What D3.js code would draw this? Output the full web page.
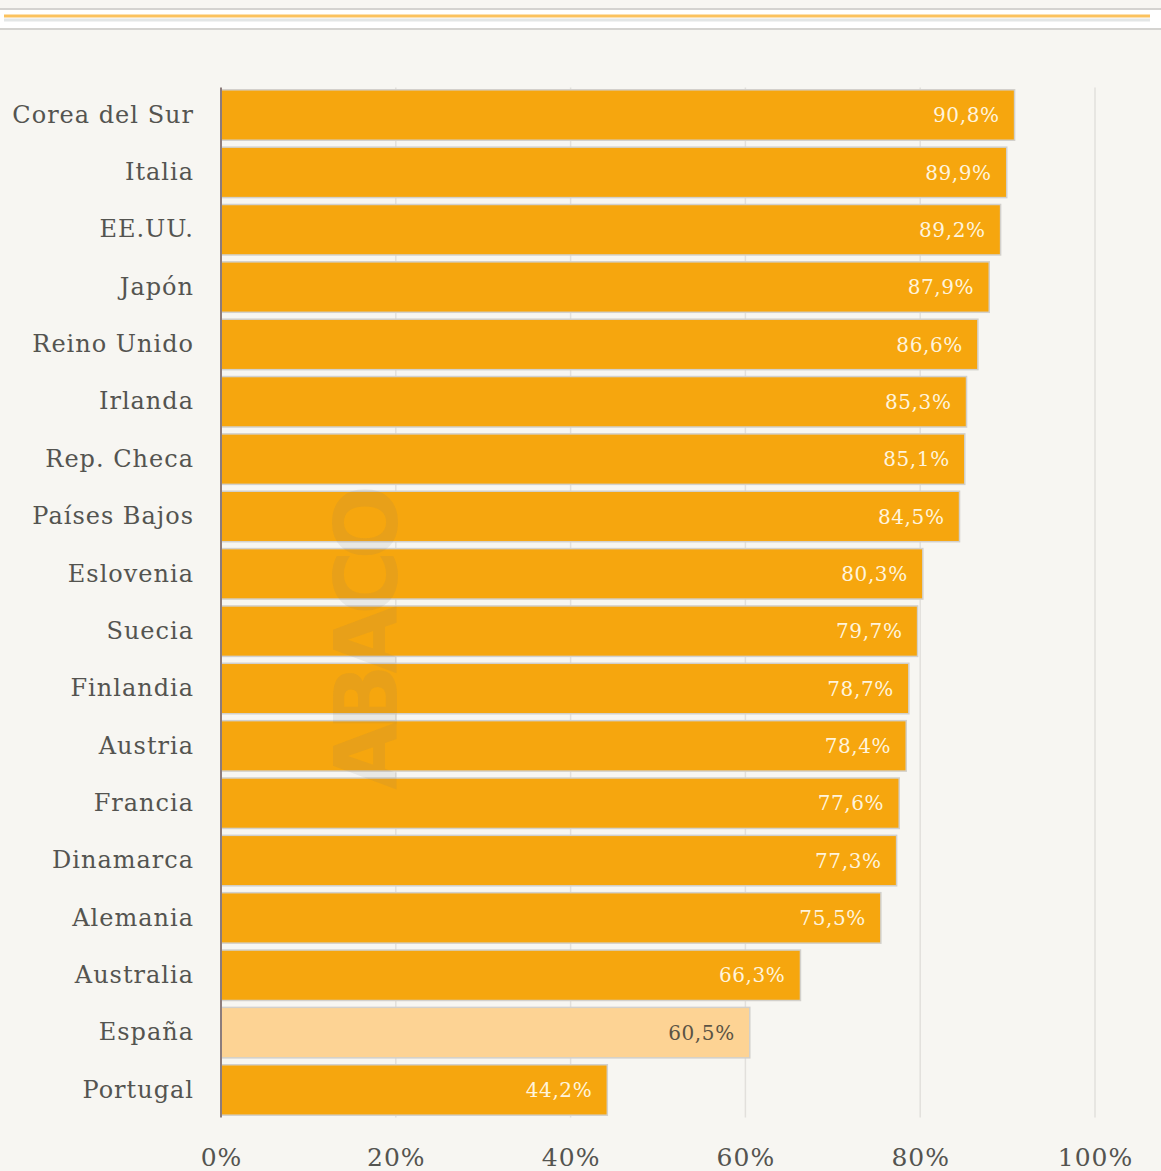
<!DOCTYPE html>
<html>
<head>
<meta charset="utf-8">
<script src="https://cdn.jsdelivr.net/npm/d3@7"></script>
<style>
  body { margin: 0; background: #f7f6f2; }
  svg { display: block; }
</style>
</head>
<body>
<script>
var countries = ["Corea del Sur", "Italia", "EE.UU.", "Japón", "Reino Unido", "Irlanda", "Rep. Checa",
                 "Países Bajos", "Eslovenia", "Suecia", "Finlandia", "Austria", "Francia", "Dinamarca",
                 "Alemania", "Australia", "España", "Portugal"];
var values = [90.8, 89.9, 89.2, 87.9, 86.6, 85.3, 85.1, 84.5, 80.3, 79.7, 78.7, 78.4, 77.6, 77.3, 75.5, 66.3, 60.5, 44.2];
var ticks = [0, 20, 40, 60, 80, 100];
var highlight = "España";

var svgWidth = 1161, svgHeight = 1171,
    plotLeft = 221, plotRight = 1095,
    plotTop = 87.5, plotBottom = 1117.5;

var svg = d3.select("body").append("svg")
    .attr("width", svgWidth)
    .attr("height", svgHeight);

svg.append("rect").attr("width", svgWidth).attr("height", svgHeight).attr("fill", "#f7f6f2");

// header strip
svg.append("rect").attr("x", -2).attr("y", 9).attr("width", svgWidth + 4).attr("height", 20)
    .attr("fill", "#ffffff").attr("stroke", "#d4d3d0").attr("stroke-width", 2);
svg.append("line").attr("x1", 4).attr("x2", 1150).attr("y1", 16).attr("y2", 16)
    .attr("stroke", "#fbc25e").attr("stroke-width", 3);
svg.append("line").attr("x1", 4).attr("x2", 1150).attr("y1", 20).attr("y2", 20)
    .attr("stroke", "#e3e6e6").attr("stroke-width", 3);

var x = d3.scaleLinear().domain([0, 100]).range([plotLeft, plotRight]);
var y = d3.scaleBand().domain(countries).range([plotTop, plotBottom]).paddingInner(0.12).paddingOuter(0.04);

// gridlines
svg.append("g").selectAll("line")
    .data(ticks.filter(function(d) { return d > 0; }))
    .enter().append("line")
        .attr("x1", function(d) { return x(d); })
        .attr("x2", function(d) { return x(d); })
        .attr("y1", plotTop)
        .attr("y2", plotBottom)
        .attr("stroke", "#e2e0dc")
        .attr("stroke-width", 1.5);

// bars
svg.append("g").selectAll("rect")
    .data(countries)
    .enter().append("rect")
        .attr("x", x(0))
        .attr("y", function(d) { return y(d); })
        .attr("width", function(d, i) { return x(values[i]) - x(0); })
        .attr("height", y.bandwidth())
        .attr("fill", function(d) { return d === highlight ? "#fdd394" : "#f6a60e"; })
        .attr("stroke", "#d2d0cc")
        .attr("stroke-width", 1.5);

// watermark
svg.append("text")
    .attr("transform", "translate(397,790) rotate(-90)")
    .attr("font-family", "DejaVu Sans")
    .attr("font-weight", "bold")
    .attr("font-size", 88)
    .attr("fill", "#7a7a7a")
    .attr("fill-opacity", 0.11)
    .attr("textLength", 305)
    .text("ABACO");

// value labels
svg.append("g").selectAll("text")
    .data(countries)
    .enter().append("text")
        .attr("x", function(d, i) { return x(values[i]) - 15; })
        .attr("y", function(d) { return y(d) + y.bandwidth() / 2; })
        .attr("dy", "0.36em")
        .attr("text-anchor", "end")
        .attr("font-family", "DejaVu Serif")
        .attr("font-size", 20)
        .attr("letter-spacing", 0.6)
        .attr("fill", function(d) { return d === highlight ? "#5b5344" : "#fff4dc"; })
        .text(function(d, i) { return values[i].toFixed(1).replace(".", ",") + "%"; });

// category axis
var yAxis = svg.append("g")
    .attr("transform", "translate(" + plotLeft + ",0)")
    .call(d3.axisLeft(y).tickSize(0).tickPadding(27));
yAxis.select(".domain").attr("stroke", "#8c7c7c").attr("stroke-width", 2)
    .attr("d", "M0," + plotTop + "V" + plotBottom);
yAxis.selectAll("text")
    .attr("font-family", "DejaVu Serif")
    .attr("font-size", 24)
    .attr("letter-spacing", 1)
    .attr("fill", "#545450");

// value axis
var xAxis = svg.append("g")
    .attr("transform", "translate(0," + plotBottom + ")")
    .call(d3.axisBottom(x).tickValues(ticks).tickSize(0).tickPadding(31)
        .tickFormat(function(d) { return d + "%"; }));
xAxis.select(".domain").remove();
xAxis.selectAll("text")
    .attr("font-family", "DejaVu Serif")
    .attr("font-size", 25)
    .attr("letter-spacing", 1)
    .attr("fill", "#545450");
</script>
</body>
</html>
